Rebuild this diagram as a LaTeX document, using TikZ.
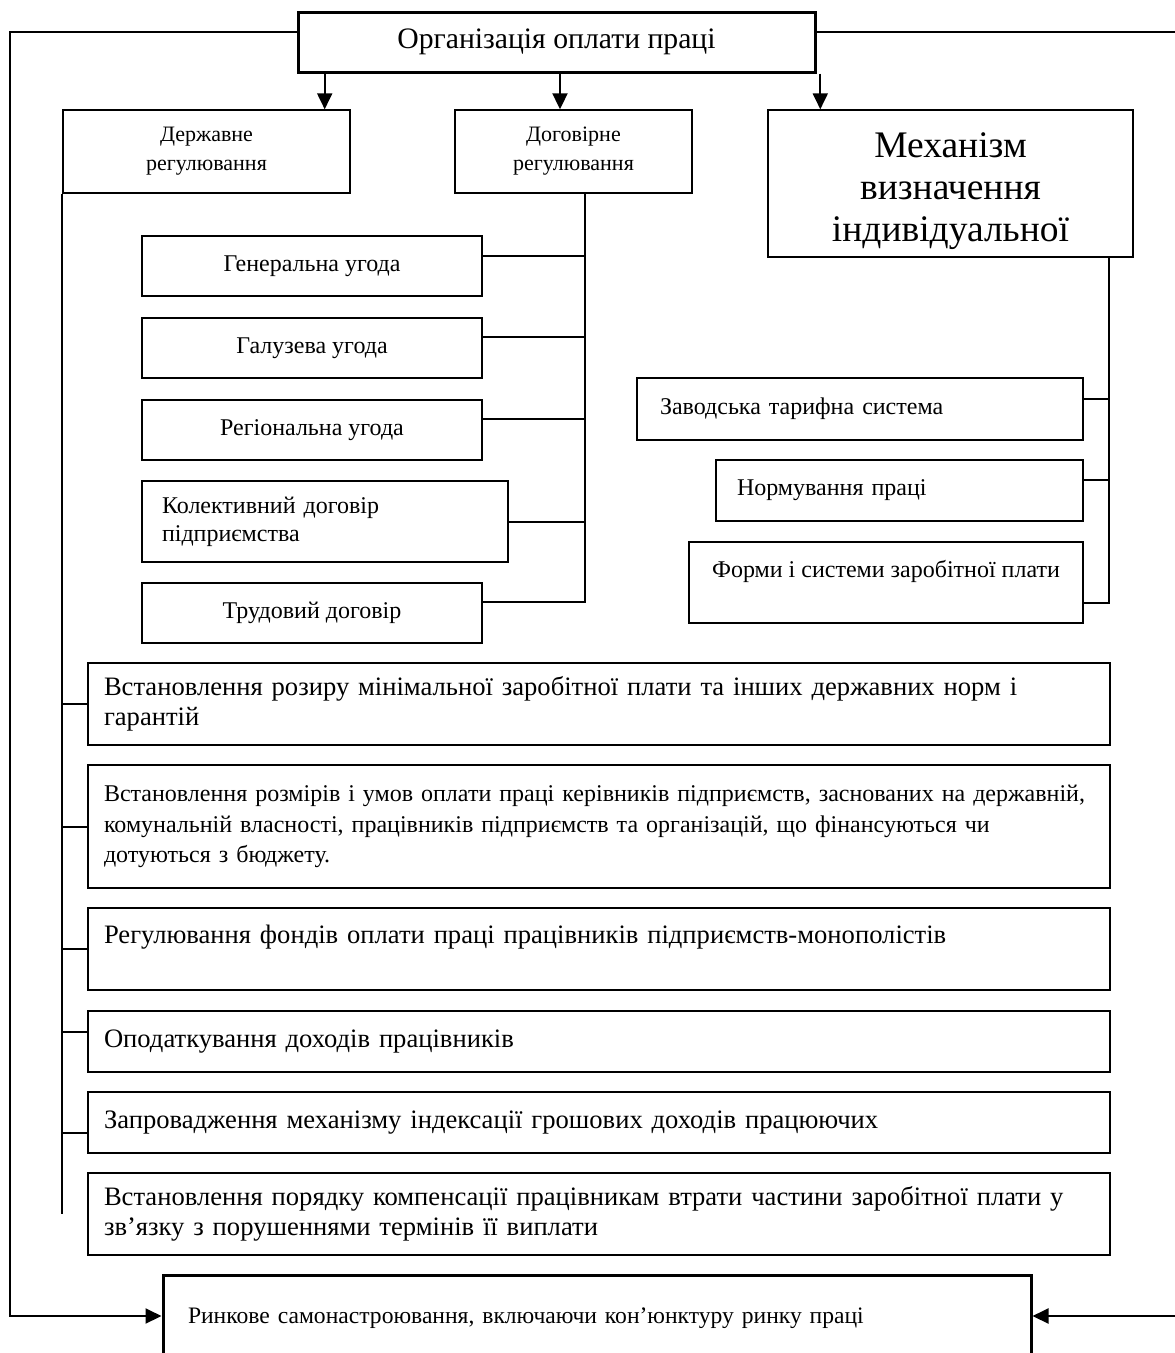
\documentclass[tikz,border=0pt]{standalone}
\usepackage{fontspec}
\setmainfont{Liberation Serif}
\usetikzlibrary{arrows.meta,positioning}

\tikzset{
  blk/.style={draw, rectangle, line width=1.4pt, inner sep=0pt, align=center},
  thk/.style={line width=3pt},
  lft/.style={align=left, inner xsep=#1},
  conn/.style={line width=2pt},
  arr/.style={conn, -{Triangle[length=16pt,width=15pt]}},
  ftop/.style={font=\fontsize{29.7}{34}\selectfont},
  fhead/.style={font=\fontsize{22}{29}\selectfont},
  fmech/.style={font=\fontsize{37.5}{42}\selectfont},
  fsub/.style={font=\fontsize{24}{28}\selectfont},
  fnorm/.style={font=\fontsize{26.6}{30}\selectfont},
  fsmall/.style={font=\fontsize{24}{30.5}\selectfont},
  fmark/.style={font=\fontsize{23.6}{30}\selectfont}
}

\begin{document}
\begin{tikzpicture}[x=1pt,y=-1pt]
%
\useasboundingbox (0,0) rectangle (1175,1353);
%
\node[blk, thk, ftop, minimum width=517pt, minimum height=60pt] (top) at (556.5,42) {Організація оплати праці};
%
\node[blk, fhead, minimum width=287pt, minimum height=83pt] (derzh) at (206.5,151.5) {Державне\\регулювання};
\node[blk, fhead, minimum width=237pt, minimum height=83pt] (dogov) at (573.5,151.5) {Договірне\\регулювання};
\node[blk, fmech, minimum width=365pt, minimum height=147pt] (mech) at (950.5,183.5) {\rule{0pt}{40pt}Механізм\\визначення\\індивідуальної};
%
\node[blk, fsub, minimum width=340pt, minimum height=60pt] (gen) at (312,266) {Генеральна угода};
\node[blk, fsub, minimum width=340pt, minimum height=60pt] (gal) at (312,348) {Галузева угода};
\node[blk, fsub, minimum width=340pt, minimum height=60pt] (reg) at (312,430) {Регіональна угода};
\node[blk, fsub, lft=20pt, text width=326pt, minimum height=81pt] (kol) at (325,521.5) {Колективний договір\\підприємства};
\node[blk, fsub, minimum width=340pt, minimum height=60pt] (trud) at (312,613) {Трудовий договір};
%
\node[blk, fsub, lft=23pt, text width=400pt, minimum height=62pt] (zav) at (860,409) {Заводська тарифна система};
\node[blk, fsub, lft=21pt, text width=325pt, minimum height=61pt] (norm) at (899.5,490.5) {Нормування праці};
\node[blk, fsub, minimum width=394pt, minimum height=81pt] (form) at (886,582.5) {Форми і системи заробітної плати\\~};
%
\node[blk, fnorm, lft=16pt, text width=990pt, minimum height=82pt] (s1) at (599,704) {Встановлення розиру мінімальної заробітної плати та інших державних норм і\\гарантій};
\node[blk, fsmall, lft=16pt, text width=990pt, minimum height=123pt] (s2) at (599,826.5) {Встановлення розмірів і умов оплати праці керівників підприємств, заснованих на державній,\\комунальній власності, працівників підприємств та організацій, що фінансуються чи\\дотуються з бюджету.};
\node[blk, fnorm, lft=16pt, text width=990pt, minimum height=82pt] (s3) at (599,949) {Регулювання фондів оплати праці працівників підприємств-монополістів\\~};
\node[blk, fnorm, lft=16pt, text width=990pt, minimum height=61pt] (s4) at (599,1041.5) {Оподаткування доходів працівників};
\node[blk, fnorm, lft=16pt, text width=990pt, minimum height=61pt] (s5) at (599,1122.5) {Запровадження механізму індексації грошових доходів працюючих};
\node[blk, fnorm, lft=16pt, text width=990pt, minimum height=82pt] (s6) at (599,1214) {Встановлення порядку компенсації працівникам втрати частини заробітної плати у\\зв’язку з порушеннями термінів її виплати};
%
\node[blk, thk, fmark, lft=25pt, text width=818pt, minimum height=112pt] (market) at (597,1331) {Ринкове самонастроювання, включаючи кон’юнктуру ринку праці\\~};
%
\coordinate (a1) at ([xshift=-26pt]derzh.north east);
\coordinate (a2) at ([xshift=-13.5pt]dogov.north);
\coordinate (a3) at ([xshift=53pt]mech.north west);
\draw[arr] (a1 |- top.south) -- (a1);
\draw[arr] (a2 |- top.south) -- (a2);
\draw[arr] (a3 |- top.south) -- (a3);
%
\coordinate (lp) at (10,1316);
\coordinate (rp) at (1190,1316);
\draw[arr] ([yshift=10pt]top.west) -| (lp) -- (lp -| market.west);
\draw[arr] ([yshift=10pt]top.east) -| (rp) -- (rp -| market.east);
%
\draw[conn] (derzh.south west) -- (derzh.south west |- s6.west);
\foreach \s/\d in {s1/0,s2/0,s3/0,s4/10,s5/-10}{
  \path ([yshift=\d pt]\s.west) coordinate (b);
  \draw[conn] (derzh.south west |- b) -- (b);
}
%
\coordinate (dv) at ([xshift=11.5pt]dogov.south);
\draw[conn] (dv) |- ([yshift=11pt]trud.east);
\foreach \n/\d in {gen/10,gal/11,reg/11,kol/0}{
  \path ([yshift=\d pt]\n.east) coordinate (b);
  \draw[conn] (dv |- b) -- (b);
}
%
\coordinate (mv) at ([xshift=-25pt]mech.south east);
\draw[conn] (mv) |- ([yshift=-20pt]form.east);
\foreach \n/\d in {zav/10,norm/11}{
  \path ([yshift=\d pt]\n.east) coordinate (b);
  \draw[conn] (mv |- b) -- (b);
}
%
\end{tikzpicture}
\end{document}
